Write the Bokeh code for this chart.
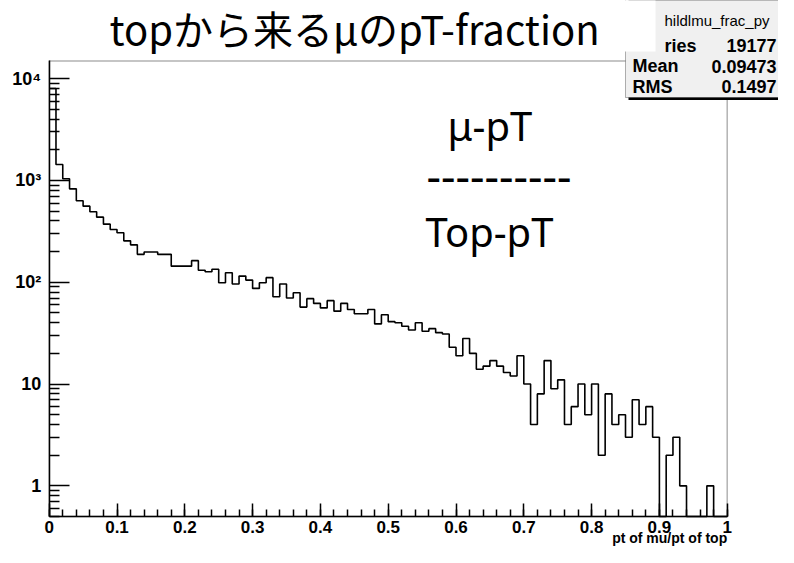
import math
import numpy as np
from bokeh.plotting import figure
from bokeh.models import (Range1d, FixedTicker, SingleIntervalTicker, Label,
                          BoxAnnotation)
from bokeh.embed import file_html
from bokeh.resources import INLINE

# ---- data ----
bin_lo, bin_hi, n_bins = 0.0, 1.0, 100
counts = [8000, 1436, 1038, 827, 631, 559, 492, 436, 372, 330,
          306, 255, 233, 188, 198, 198, 188, 188, 144, 144,
          144, 163, 131, 127, 134, 99, 124, 96, 115, 105,
          87, 99, 111, 72, 96, 70, 79, 57, 69, 62,
          56, 66, 52, 62, 54, 49, 49, 54, 39, 48,
          41, 40, 37, 34, 40, 33, 35, 32, 31, 23,
          19, 28, 20, 14, 15, 17, 15, 13, 12, 19,
          10, 4, 8, 17, 9, 11, 4, 6, 10, 5,
          10, 2, 8, 4, 5, 3, 7, 4, 6, 3,
          0, 2, 3, 1, 0, 0, 0, 1, 0, 0]
y_major = [1, 10, 100, 1000, 10000]
y_labels = ["1", "10", "10\u00b2", "10\u00b3", "10\u2074"]
stats_name = "hildlmu_frac_py"
stats_rows = [("ries", "19177"), ("Mean", "0.09473"), ("RMS", "0.1497")]
title_text = "topから来るμのpT-fraction"
x_title = "pt of mu/pt of top"
note_lines = ["μ-pT", "----------", "Top-pT"]

# ---- geometry (pixels) ----
W, H = 778, 547
X0_PX = 48.7        # pixel column of x = 0
PX_X = 678.0        # pixels per unit of x
Y0 = 0.5            # bottom of the ROOT frame
Y0_PX = 516.0       # pixel row of y = Y0
PX_DEC = 101.8      # pixels per decade of y
ROOT_TOP_PX = 60.4  # top line of the ROOT frame

x_start = bin_lo - X0_PX / PX_X
x_end = bin_lo + (W - X0_PX) / PX_X
y_start = 10 ** (math.log10(Y0) - (H - Y0_PX) / PX_DEC)
y_end = 10 ** (math.log10(Y0) + Y0_PX / PX_DEC)
y_root_top = 10 ** (math.log10(Y0) + (Y0_PX - ROOT_TOP_PX) / PX_DEC)

p = figure(width=W, height=H, output_backend="svg", toolbar_location=None,
           title_location=None, y_axis_type="log",
           x_range=Range1d(x_start, x_end), y_range=Range1d(y_start, y_end),
           min_border_left=0, min_border_right=0, min_border_top=0,
           min_border_bottom=0)
p.grid.visible = False
p.outline_line_color = None
p.background_fill_color = "white"
p.border_fill_color = "white"

# histogram outline (ROOT style step), empty bins drop to the frame floor
edges = np.linspace(bin_lo, bin_hi, n_bins + 1)
yv = [c if c > 0 else Y0 for c in counts]
yv = yv + [yv[-1]]
p.step(edges, yv, mode="after", line_color="black", line_width=1.6)

# ROOT frame
p.add_layout(BoxAnnotation(left=bin_lo, right=bin_hi, bottom=Y0, top=y_root_top,
                           fill_alpha=0, line_color="black", line_width=1.5))

# axes, pinned to the ROOT frame edges
ax = p.xaxis[0]
ax.fixed_location = Y0
ax.bounds = (bin_lo, bin_hi)
ax.ticker = SingleIntervalTicker(interval=0.1, num_minor_ticks=5)
ax.major_tick_in = 13; ax.major_tick_out = 0
ax.minor_tick_in = 7; ax.minor_tick_out = 0
ax.major_label_overrides = {0: "0", 1: "1"}
ay = p.yaxis[0]
ay.fixed_location = bin_lo
ay.bounds = (Y0, y_root_top)
minor = [m * t for t in [0.1] + y_major for m in range(2, 10)]
minor = [v for v in minor if Y0 <= v <= y_root_top]
ay.ticker = FixedTicker(ticks=y_major, minor_ticks=minor)
ay.major_label_overrides = {t: l for t, l in zip(y_major, y_labels)}
ay.major_tick_in = 20; ay.major_tick_out = 0
ay.minor_tick_in = 10; ay.minor_tick_out = 0
for a in (ax, ay):
    a.axis_line_color = "black"; a.axis_line_width = 1.5
    a.major_tick_line_width = 1.5; a.minor_tick_line_width = 1.5
    a.major_tick_line_color = "black"; a.minor_tick_line_color = "black"
    a.major_label_text_font = "Liberation Sans"
    a.major_label_text_font_style = "bold"
    a.major_label_text_color = "black"
ax.major_label_text_font_size = "17px"
ay.major_label_text_font_size = "18px"
ax.major_label_standoff = 4
ay.major_label_standoff = 8

def lab(x, y, text, align="left", base="middle", font="Liberation Sans",
        size="18px", style="normal"):
    p.add_layout(Label(x=x, y=y, x_units="canvas", y_units="canvas", text=text,
                       text_align=align, text_baseline=base, text_font=font,
                       text_font_size=size, text_font_style=style,
                       text_color="black"))

# x-axis title, right aligned at the end of the axis
lab(X0_PX + PX_X * bin_hi, 537, x_title, align="right", size="14px", style="bold")

# stats box (with shadow)
p.add_layout(BoxAnnotation(left=628, right=810, top=-2, bottom=99.5,
                           left_units="canvas", right_units="canvas", top_units="canvas",
                           bottom_units="canvas", fill_color="black", fill_alpha=1,
                           line_color=None))
p.add_layout(BoxAnnotation(left=625, right=805, top=-4, bottom=97,
                           left_units="canvas", right_units="canvas", top_units="canvas",
                           bottom_units="canvas", fill_color="#f0f0f0", fill_alpha=1,
                           line_color="black", line_width=1))
lab(664, 20, stats_name, size="15px")
for i, (k, v) in enumerate(stats_rows):
    yy = 45 + 20.5 * i
    lab(664 if i == 0 else 632, yy, k, style="bold")
    lab(776, yy, v, align="right", style="bold")

# white cover behind the title (hides the left part of the stats box)
p.add_layout(BoxAnnotation(left=-5, right=655, top=-5, bottom=51,
                           left_units="canvas", right_units="canvas", top_units="canvas",
                           bottom_units="canvas", fill_color="white", fill_alpha=1,
                           line_color=None))
lab(354, 27, title_text, align="center", base="alphabetic",
    font="Noto Sans CJK JP", size="40px")

# ratio annotation
lab(447, 125, note_lines[0], base="alphabetic", font="Noto Sans", size="40px")
lab(426, 175, note_lines[1], base="alphabetic", font="Noto Sans", size="45px")
lab(425, 231, note_lines[2], base="alphabetic", font="Noto Sans", size="40px")

open("out.html", "w").write(file_html(p, INLINE))
